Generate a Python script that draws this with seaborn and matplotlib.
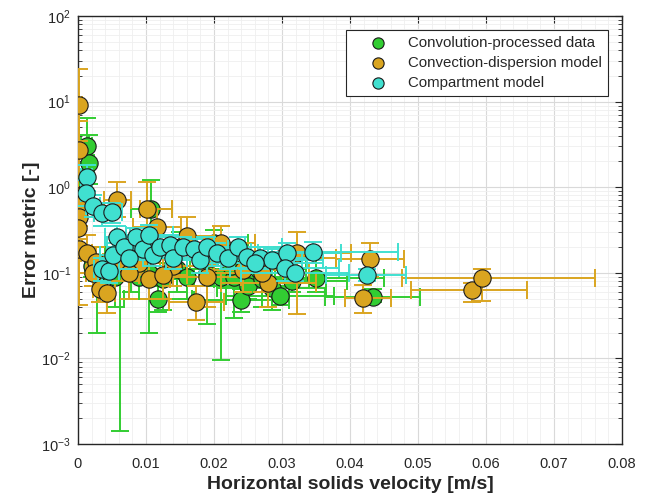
import numpy as np
import pandas as pd
import matplotlib
matplotlib.use("Agg")
import matplotlib.pyplot as plt
import seaborn as sns
from matplotlib.ticker import FixedLocator, FixedFormatter, MultipleLocator, LogLocator, LogFormatterSciNotation, NullFormatter

# ---------------- data ----------------
series_names = ["Convolution-processed data", "Convection-dispersion model", "Compartment model"]
series_colors = ["#32CD32", "#DAA520", "#40E0D0"]

# Convolution-processed data (green)
g_x   = [0.0013, 0.0016, 0.0008, 0.0005, 0.0020, 0.0028, 0.0040, 0.0062, 0.0078, 0.0108, 0.0117, 0.0105,
         0.0125, 0.0145, 0.0160, 0.0210, 0.0190, 0.0240, 0.0230, 0.0250, 0.0270, 0.0285, 0.0297, 0.0315,
         0.0350, 0.0434, 0.0200, 0.0150, 0.0225, 0.0265, 0.0090, 0.0055]
g_y   = [3.0, 1.9, 1.25, 0.8, 0.12, 0.10, 0.12, 0.12, 0.15, 0.55, 0.05, 0.10,
         0.085, 0.11, 0.09, 0.09, 0.10, 0.048, 0.09, 0.07, 0.085, 0.066, 0.053, 0.08,
         0.088, 0.052, 0.22, 0.20, 0.12, 0.11, 0.09, 0.09]
g_xlo = [0.0005, 0.0008, 0.0002, 0.0000, 0.0010, 0.0016, 0.0025, 0.0042, 0.0053, 0.0078, 0.0067, 0.0075,
         0.0090, 0.0105, 0.0120, 0.0160, 0.0140, 0.0170, 0.0170, 0.0190, 0.0200, 0.0205, 0.0217, 0.0235,
         0.0250, 0.0363, 0.0150, 0.0110, 0.0165, 0.0195, 0.0060, 0.0035]
g_xhi = [0.0021, 0.0024, 0.0014, 0.0010, 0.0030, 0.0040, 0.0055, 0.0082, 0.0103, 0.0138, 0.0167, 0.0135,
         0.0160, 0.0185, 0.0200, 0.0260, 0.0240, 0.0310, 0.0290, 0.0310, 0.0340, 0.0365, 0.0377, 0.0395,
         0.0450, 0.0503, 0.0250, 0.0190, 0.0285, 0.0335, 0.0120, 0.0075]
g_ylo = [1.8, 1.1, 0.7, 0.5, 0.09, 0.02, 0.05, 0.0014, 0.06, 0.3, 0.035, 0.02,
         0.037, 0.06, 0.05, 0.0096, 0.025, 0.035, 0.03, 0.05, 0.04, 0.037, 0.042, 0.06,
         0.06, 0.045, 0.12, 0.10, 0.08, 0.07, 0.05, 0.04]
g_yhi = [6.5, 4.1, 1.9, 1.2, 0.2, 0.15, 0.2, 0.2, 0.22, 1.2, 0.07, 0.16,
         0.13, 0.17, 0.14, 0.13, 0.18, 0.065, 0.13, 0.10, 0.12, 0.09, 0.07, 0.11,
         0.15, 0.065, 0.32, 0.30, 0.18, 0.16, 0.15, 0.14]

# Convection-dispersion model (orange)
o_x   = [0.0001, 0.0002, 0.0000, 0.0001, 0.0001, 0.0000, 0.0001, 0.0013, 0.0027, 0.0032, 0.0042, 0.0022,
         0.0058, 0.0101, 0.0116, 0.0160, 0.0174, 0.0189, 0.0242, 0.0090, 0.0105, 0.0140, 0.0125, 0.0210,
         0.0280, 0.0322, 0.0270, 0.0430, 0.0419, 0.0579, 0.0594, 0.0065, 0.0075, 0.0300, 0.0195]
o_y   = [9.1, 2.7, 0.78, 0.62, 0.45, 0.33, 0.19, 0.17, 0.135, 0.065, 0.058, 0.10,
         0.70, 0.55, 0.34, 0.27, 0.046, 0.089, 0.108, 0.13, 0.085, 0.12, 0.095, 0.22,
         0.075, 0.17, 0.10, 0.145, 0.051, 0.063, 0.087, 0.13, 0.10, 0.15, 0.15]
o_xlo = [0.0000, 0.0000, 0.0000, 0.0000, 0.0000, 0.0000, 0.0000, 0.0005, 0.0017, 0.0022, 0.0030, 0.0012,
         0.0038, 0.0091, 0.0081, 0.0120, 0.0134, 0.0139, 0.0182, 0.0060, 0.0075, 0.0100, 0.0090, 0.0160,
         0.0210, 0.0242, 0.0200, 0.0380, 0.0393, 0.0490, 0.0477, 0.0045, 0.0050, 0.0220, 0.0145]
o_xhi = [0.0006, 0.0007, 0.0004, 0.0005, 0.0005, 0.0004, 0.0006, 0.0021, 0.0037, 0.0042, 0.0054, 0.0032,
         0.0078, 0.0138, 0.0151, 0.0200, 0.0214, 0.0239, 0.0302, 0.0120, 0.0135, 0.0180, 0.0160, 0.0260,
         0.0350, 0.0402, 0.0340, 0.0480, 0.0460, 0.0660, 0.0761, 0.0085, 0.0100, 0.0380, 0.0245]
o_ylo = [3.5, 1.3, 0.45, 0.35, 0.25, 0.20, 0.042, 0.10, 0.07, 0.045, 0.034, 0.07,
         0.45, 0.30, 0.20, 0.15, 0.028, 0.04, 0.06, 0.08, 0.05, 0.07, 0.05, 0.12,
         0.04, 0.033, 0.06, 0.09, 0.034, 0.045, 0.047, 0.08, 0.05, 0.10, 0.09]
o_yhi = [24.0, 6.0, 1.2, 0.95, 0.7, 0.5, 0.42, 0.28, 0.2, 0.09, 0.08, 0.14,
         1.15, 1.15, 0.55, 0.45, 0.07, 0.14, 0.16, 0.2, 0.13, 0.18, 0.15, 0.35,
         0.12, 0.30, 0.15, 0.22, 0.072, 0.075, 0.11, 0.2, 0.15, 0.2, 0.25]

# Compartment model (cyan)
c_x   = [0.0013, 0.0012, 0.0022, 0.0035, 0.0050, 0.0058, 0.0036, 0.0045, 0.0052, 0.0068, 0.0085, 0.0095,
         0.0105, 0.0110, 0.0120, 0.0135, 0.0140, 0.0155, 0.0170, 0.0180, 0.0190, 0.0205, 0.0220, 0.0235,
         0.0248, 0.0267, 0.0286, 0.0307, 0.0304, 0.0319, 0.0345, 0.0425, 0.0260, 0.0075]
c_y   = [1.30, 0.85, 0.60, 0.50, 0.52, 0.26, 0.11, 0.105, 0.16, 0.20, 0.26, 0.19,
         0.28, 0.16, 0.20, 0.21, 0.15, 0.20, 0.19, 0.14, 0.20, 0.17, 0.15, 0.20,
         0.153, 0.15, 0.14, 0.17, 0.114, 0.10, 0.175, 0.094, 0.13, 0.15]
c_xlo = [0.0005, 0.0004, 0.0012, 0.0023, 0.0035, 0.0040, 0.0024, 0.0030, 0.0032, 0.0043, 0.0055, 0.0065,
         0.0070, 0.0075, 0.0080, 0.0095, 0.0095, 0.0110, 0.0120, 0.0130, 0.0135, 0.0145, 0.0160, 0.0170,
         0.0178, 0.0197, 0.0211, 0.0227, 0.0224, 0.0239, 0.0255, 0.0365, 0.0190, 0.0045]
c_xhi = [0.0021, 0.0020, 0.0032, 0.0047, 0.0065, 0.0076, 0.0048, 0.0060, 0.0072, 0.0093, 0.0115, 0.0125,
         0.0140, 0.0145, 0.0160, 0.0175, 0.0185, 0.0200, 0.0220, 0.0230, 0.0245, 0.0265, 0.0280, 0.0300,
         0.0318, 0.0337, 0.0361, 0.0387, 0.0384, 0.0399, 0.0470, 0.0483, 0.0330, 0.0105]
c_ylo = [0.9, 0.6, 0.45, 0.35, 0.38, 0.17, 0.08, 0.075, 0.11, 0.15, 0.20, 0.14,
         0.21, 0.12, 0.15, 0.16, 0.11, 0.15, 0.14, 0.10, 0.15, 0.12, 0.11, 0.15,
         0.11, 0.11, 0.10, 0.12, 0.08, 0.08, 0.13, 0.08, 0.10, 0.11]
c_yhi = [1.8, 1.2, 0.8, 0.65, 0.65, 0.35, 0.15, 0.14, 0.22, 0.26, 0.33, 0.25,
         0.36, 0.21, 0.26, 0.28, 0.20, 0.26, 0.25, 0.19, 0.26, 0.22, 0.20, 0.26,
         0.20, 0.20, 0.19, 0.22, 0.15, 0.13, 0.23, 0.11, 0.17, 0.20]

x_tick_labels = ["0", "0.01", "0.02", "0.03", "0.04", "0.05", "0.06", "0.07", "0.08"]
x_label = "Horizontal solids velocity [m/s]"
y_label = "Error metric [-]"

# ---------------- style ----------------
sns.set_theme(style="white")
plt.rcParams['font.family'] = ['Liberation Sans', 'DejaVu Sans']
plt.rcParams['mathtext.fontset'] = 'custom'
plt.rcParams['mathtext.rm'] = 'Liberation Sans'
plt.rcParams['mathtext.it'] = 'Liberation Sans:italic'
plt.rcParams['mathtext.bf'] = 'Liberation Sans:bold'

fig = plt.figure(figsize=(6.54, 5.01), dpi=100)
ax = fig.add_axes([78/654, 57/501, 544/654, 428/501])
ax.set_yscale('log')

all_series = [
    (series_names[0], series_colors[0], g_x, g_y, g_xlo, g_xhi, g_ylo, g_yhi),
    (series_names[1], series_colors[1], o_x, o_y, o_xlo, o_xhi, o_ylo, o_yhi),
    (series_names[2], series_colors[2], c_x, c_y, c_xlo, c_xhi, c_ylo, c_yhi),
]

for i, (name, color, x, y, xlo, xhi, ylo, yhi) in enumerate(all_series):
    x = np.array(x); y = np.array(y)
    xlo = np.array(xlo); xhi = np.array(xhi); ylo = np.array(ylo); yhi = np.array(yhi)
    z = 3 + 2 * i
    ax.errorbar(x, y, xerr=[x - xlo, xhi - x], yerr=[y - ylo, yhi - y], fmt='none',
                ecolor=color, elinewidth=1.4, capsize=6.5, capthick=1.4, zorder=z)
    df = pd.DataFrame({"x": x, "y": y})
    sns.scatterplot(data=df, x="x", y="y", ax=ax, color=color, s=155, edgecolor="#1a1a1a",
                    linewidth=0.8, zorder=z + 1, label=name)

ax.set_xlim(0, 0.08)
ax.set_ylim(1e-3, 1e2)

ax.xaxis.set_major_locator(FixedLocator([0, 0.01, 0.02, 0.03, 0.04, 0.05, 0.06, 0.07, 0.08]))
ax.xaxis.set_major_formatter(FixedFormatter(x_tick_labels))
ax.xaxis.set_minor_locator(MultipleLocator(0.002))
ax.yaxis.set_major_locator(LogLocator(base=10, numticks=10))
ax.yaxis.set_major_formatter(LogFormatterSciNotation())
ax.yaxis.set_minor_locator(LogLocator(base=10, subs=np.arange(2, 10), numticks=20))
ax.yaxis.set_minor_formatter(NullFormatter())

ax.grid(True, which='major', color='#d9d9d9', linewidth=0.8, zorder=0)
ax.grid(True, which='minor', color='#efefef', linewidth=0.6, zorder=0)
ax.set_axisbelow(True)

ax.tick_params(axis='both', which='major', direction='in', length=5, width=0.8,
               top=True, right=True, labelsize=10.5, colors='#262626')
ax.tick_params(axis='x', which='major', pad=9)
ax.tick_params(axis='y', which='major', pad=5)
ax.tick_params(axis='y', which='minor', direction='in', length=3, width=0.6, left=True, right=True)
ax.tick_params(axis='x', which='minor', length=0)
for sp in ax.spines.values():
    sp.set_color('#262626')
    sp.set_linewidth(1.0)

ax.set_xlabel(x_label, fontsize=14, fontweight='bold', color='#262626', labelpad=4)
ax.set_ylabel(y_label, fontsize=14, fontweight='bold', color='#262626', labelpad=1)

leg = ax.legend(loc='upper right', bbox_to_anchor=(0.974, 0.967), borderaxespad=0,
                fontsize=10.8, frameon=True, fancybox=False, edgecolor='#262626',
                framealpha=1, markerscale=0.65, handletextpad=0.2, labelspacing=0.38,
                borderpad=0.42, handlelength=3.5)
leg.get_frame().set_linewidth(0.8)
leg.set_zorder(20)

fig.savefig("out.png", dpi=100)
